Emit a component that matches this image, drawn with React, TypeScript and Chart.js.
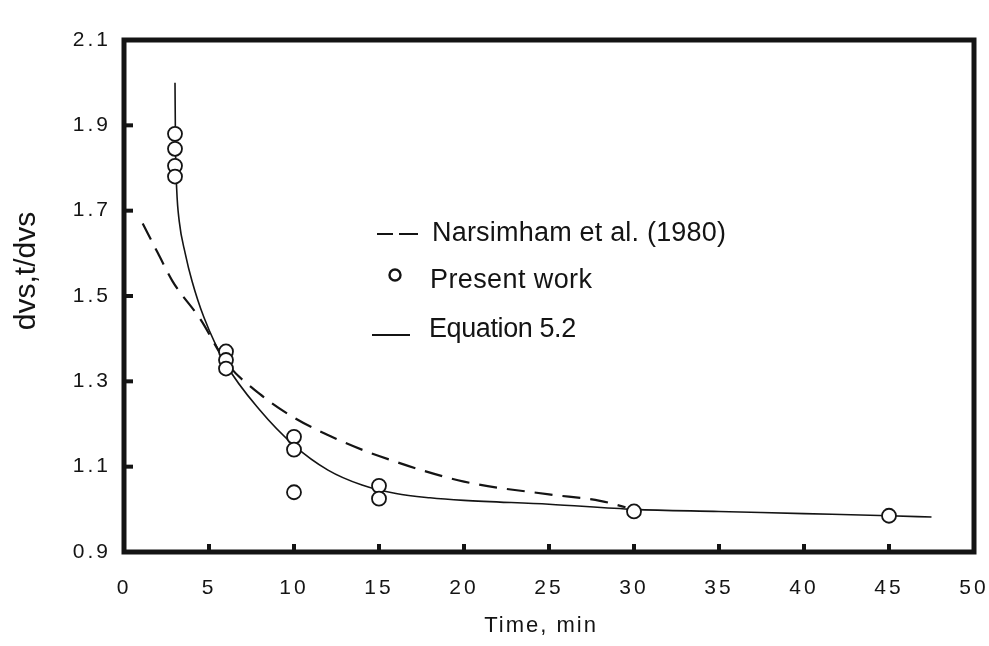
import React, { useEffect, useRef } from "react";
import { Chart, registerables } from "chart.js";
Chart.register(...registerables);

// ---- data ----
const xTicks = [0, 5, 10, 15, 20, 25, 30, 35, 40, 45, 50];
const yTicks = [0.9, 1.1, 1.3, 1.5, 1.7, 1.9, 2.1];

const presentX = [3, 3, 3, 3, 6, 6, 6, 10, 10, 10, 15, 15, 30, 45];
const presentY = [1.88, 1.845, 1.805, 1.78, 1.37, 1.35, 1.33, 1.17, 1.14, 1.04, 1.055, 1.025, 0.995, 0.985];

const eqX = [3, 3.03, 3.1, 3.25, 3.6, 4, 4.7, 6, 8, 10, 12, 14, 16, 18, 20, 25, 30, 35, 40, 45, 47.5];
const eqY = [2.0, 1.85, 1.75, 1.675, 1.6, 1.535, 1.45, 1.34, 1.232, 1.15, 1.092, 1.057, 1.037, 1.027, 1.021, 1.012, 1.0, 0.995, 0.99, 0.985, 0.982];

const narX = [1.1, 2, 2.85, 4.5, 6, 8, 10, 12.5, 15, 20, 25, 28, 29.5];
const narY = [1.67, 1.6, 1.535, 1.445, 1.345, 1.27, 1.215, 1.165, 1.125, 1.065, 1.035, 1.02, 1.005];

const legendLabels = ["Narsimham et al. (1980)", "Present work", "Equation 5.2"];
const xTitle = "Time, min";
const yTitle = "dvs,t/dvs";

const toPts = (xs: number[], ys: number[]) => xs.map((x, i) => ({ x, y: ys[i] }));

const INK = "#141414";
const FONT = "'Liberation Sans', Arial, sans-serif";

const framePlugin = {
  id: "frame",
  beforeDraw(chart: any) {
    chart.ctx.letterSpacing = "3px";
  },
  beforeDatasetsDraw(chart: any) {
    const { ctx, chartArea: a, scales } = chart;
    ctx.save();
    ctx.letterSpacing = "0px";
    ctx.strokeStyle = INK;
    ctx.lineWidth = 5;
    ctx.strokeRect(a.left, a.top, a.right - a.left, a.bottom - a.top);
    ctx.lineWidth = 4;
    // inward tick marks
    for (const v of yTicks) {
      const y = scales.y.getPixelForValue(v);
      ctx.beginPath();
      ctx.moveTo(a.left, y);
      ctx.lineTo(a.left + 9, y);
      ctx.stroke();
    }
    for (const v of xTicks) {
      const x = scales.x.getPixelForValue(v);
      ctx.beginPath();
      ctx.moveTo(x, a.bottom);
      ctx.lineTo(x, a.bottom - 8);
      ctx.stroke();
    }
    ctx.restore();
  },
  afterDraw(chart: any) {
    const { ctx } = chart;
    ctx.save();
    ctx.fillStyle = INK;
    ctx.strokeStyle = INK;
    // axis titles
    ctx.textBaseline = "alphabetic";
    ctx.textAlign = "center";
    ctx.letterSpacing = "2px";
    ctx.font = `22px ${FONT}`;
    ctx.fillText(xTitle, 541, 632);
    ctx.save();
    ctx.translate(35, 271);
    ctx.rotate(-Math.PI / 2);
    ctx.letterSpacing = "0px";
    ctx.font = `30px ${FONT}`;
    ctx.fillText(yTitle, 0, 0);
    ctx.restore();
    // legend
    ctx.font = `27px ${FONT}`;
    ctx.textAlign = "left";
    ctx.letterSpacing = "0.2px";
    ctx.fillText(legendLabels[0], 432, 241);
    ctx.letterSpacing = "0.4px";
    ctx.fillText(legendLabels[1], 430, 288);
    ctx.letterSpacing = "-0.4px";
    ctx.fillText(legendLabels[2], 429, 337);
    ctx.letterSpacing = "0px";
    ctx.lineWidth = 2;
    ctx.beginPath();
    ctx.moveTo(377, 234);
    ctx.lineTo(393, 234);
    ctx.moveTo(399, 234);
    ctx.lineTo(418, 234);
    ctx.stroke();
    ctx.beginPath();
    ctx.moveTo(372, 335);
    ctx.lineTo(410, 335);
    ctx.stroke();
    ctx.lineWidth = 2.4;
    ctx.beginPath();
    ctx.arc(395, 275, 5.5, 0, Math.PI * 2);
    ctx.fillStyle = "#fff";
    ctx.fill();
    ctx.stroke();
    ctx.restore();
  },
};

export default function App() {
  const ref = useRef<HTMLCanvasElement | null>(null);
  useEffect(() => {
    const chart = new Chart(ref.current as HTMLCanvasElement, {
      type: "scatter",
      data: {
        datasets: [
          {
            label: legendLabels[1],
            data: toPts(presentX, presentY),
            showLine: false,
            pointStyle: "circle",
            pointRadius: 7,
            pointBorderWidth: 1.8,
            pointBackgroundColor: "#ffffff",
            pointBorderColor: INK,
            order: 0,
          },
          {
            label: legendLabels[2],
            data: toPts(eqX, eqY),
            showLine: true,
            pointRadius: 0,
            borderColor: INK,
            borderWidth: 1.6,
            cubicInterpolationMode: "monotone",
            order: 1,
          },
          {
            label: legendLabels[0],
            data: toPts(narX, narY),
            showLine: true,
            pointRadius: 0,
            borderColor: INK,
            borderWidth: 2.2,
            borderDash: [18, 10],
            cubicInterpolationMode: "monotone",
            order: 2,
          },
        ],
      },
      options: {
        animation: false,
        responsive: false,
        maintainAspectRatio: false,
        layout: { padding: { left: 0, right: 15, top: 40, bottom: 0 } },
        plugins: { legend: { display: false }, tooltip: { enabled: false } },
        scales: {
          x: {
            type: "linear",
            min: 0,
            max: 50,
            afterBuildTicks: (s: any) => {
              s.ticks = xTicks.map((v) => ({ value: v }));
            },
            afterFit: (s: any) => {
              s.height = 94;
              s.paddingLeft = 0;
              s.paddingRight = 0;
            },
            grid: { display: false, drawTicks: false },
            border: { display: false },
            ticks: {
              color: INK,
              padding: 24,
              font: { family: FONT, size: 21 },
              maxRotation: 0,
              autoSkip: false,
            },
          },
          y: {
            type: "linear",
            min: 0.9,
            max: 2.1,
            afterBuildTicks: (s: any) => {
              s.ticks = yTicks.map((v) => ({ value: v }));
            },
            afterFit: (s: any) => {
              s.width = 124;
              s.paddingTop = 0;
              s.paddingBottom = 0;
            },
            grid: { display: false, drawTicks: false },
            border: { display: false },
            ticks: {
              color: INK,
              padding: 13,
              font: { family: FONT, size: 21 },
              callback: (v: any) => Number(v).toFixed(1),
              autoSkip: false,
            },
          },
        },
      },
      plugins: [framePlugin],
    } as any);
    return () => chart.destroy();
  }, []);
  return (
    <div style={{ position: "fixed", left: 0, top: 0, width: 989, height: 646, background: "#fff" }}>
      <canvas ref={ref} width={989} height={646} style={{ width: 989, height: 646 }} />
    </div>
  );
}
